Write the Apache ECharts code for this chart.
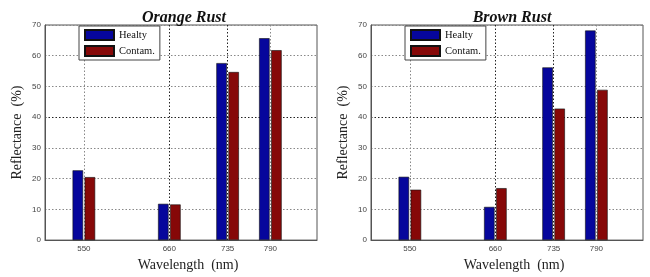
<!DOCTYPE html>
<html>
<head>
<meta charset="utf-8">
<script src="https://cdn.jsdelivr.net/npm/echarts@6/dist/echarts.min.js"></script>
<style>
  html, body { margin: 0; padding: 0; background: #fff; }
  #chart { width: 650px; height: 277px; }
</style>
</head>
<body>
<div id="chart"></div>
<script>
// wavelengths (nm) used as x positions and tick labels
var wavelengths = [550, 660, 735, 790];
var seriesNames = ["Healty", "Contam."];

// reflectance (%)
var orangeHealthy = [22.7, 11.8, 57.6, 65.7];
var orangeContam = [20.5, 11.6, 54.7, 61.8];
var brownHealthy = [20.6, 10.8, 56.2, 68.2];
var brownContam = [16.4, 16.9, 42.8, 48.9];

var serif = "Liberation Serif, Times New Roman, serif";
var sans = "Liberation Sans, Arial, sans-serif";
var blue = "#06069c";
var red = "#860808";

function pairs(vals) {
    return wavelengths.map(function (w, i) { return [w, vals[i]]; });
}

function panelGrid(left) {
    return { left: left, top: 25, width: 272, height: 217, show: true, borderColor: "#555", borderWidth: 1, backgroundColor: "#fff" };
}

function xAxis(idx) {
    return {
        type: "value",
        gridIndex: idx,
        min: 500,
        max: 850,
        name: "Wavelength  (nm)",
        nameLocation: "middle",
        nameGap: 17,
        nameTextStyle: { fontFamily: serif, fontSize: 14, color: "#222", padding: [0, 0, 0, 14] },
        axisLine: { lineStyle: { color: "#555" } },
        axisTick: { show: false, customValues: wavelengths },
        axisLabel: { customValues: wavelengths, fontFamily: sans, fontSize: 8, color: "#444", margin: 5 },
        splitLine: {
            show: true,
            lineStyle: { color: ["#888", "#222", "#222", "#888"], type: [1.5, 2], width: 1 }
        }
    };
}

function yAxis(idx) {
    return {
        type: "value",
        gridIndex: idx,
        min: 0,
        max: 70,
        interval: 10,
        name: "Reflectance  (%)",
        nameLocation: "middle",
        nameGap: 21,
        nameTextStyle: { fontFamily: serif, fontSize: 14, color: "#222" },
        axisLine: { show: true, lineStyle: { color: "#555" } },
        axisTick: { show: false },
        axisLabel: { fontFamily: sans, fontSize: 8, color: "#444", margin: 4 },
        splitLine: {
            show: true,
            lineStyle: { color: ["#888", "#888", "#888", "#888", "#222", "#888", "#888", "#888"], type: [1.5, 2], width: 1 }
        }
    };
}

function bar(name, idx, vals, color) {
    return {
        name: name,
        type: "bar",
        xAxisIndex: idx,
        yAxisIndex: idx,
        barWidth: 10.5,
        barGap: "15%",
        itemStyle: { color: color, borderColor: "#111", borderWidth: 0.6 },
        data: pairs(vals)
    };
}

function legend(left) {
    return {
        data: seriesNames,
        orient: "vertical",
        left: left,
        top: 26,
        padding: [3, 5, 3, 5],
        itemGap: 4,
        itemWidth: 29,
        itemHeight: 10,
        icon: "rect",
        backgroundColor: "#fff",
        borderColor: "#444",
        borderWidth: 1,
        textStyle: { fontFamily: serif, fontSize: 10.5, color: "#111", width: 46 }
    };
}

var option = {
    animation: false,
    backgroundColor: "#fff",
    title: [
        { text: "Orange Rust", left: 179, top: 5, textAlign: "center",
          textStyle: { fontFamily: serif, fontSize: 16, fontWeight: "bold", fontStyle: "italic", color: "#111" } },
        { text: "Brown Rust", left: 507, top: 5, textAlign: "center",
          textStyle: { fontFamily: serif, fontSize: 16, fontWeight: "bold", fontStyle: "italic", color: "#111" } }
    ],
    legend: [legend(79), legend(405)],
    grid: [panelGrid(45), panelGrid(371)],
    xAxis: [xAxis(0), xAxis(1)],
    yAxis: [yAxis(0), yAxis(1)],
    series: [
        bar(seriesNames[0], 0, orangeHealthy, blue),
        bar(seriesNames[1], 0, orangeContam, red),
        bar(seriesNames[0], 1, brownHealthy, blue),
        bar(seriesNames[1], 1, brownContam, red)
    ]
};

var myChart = echarts.init(document.getElementById("chart"));
myChart.setOption(option);
</script>
</body>
</html>
